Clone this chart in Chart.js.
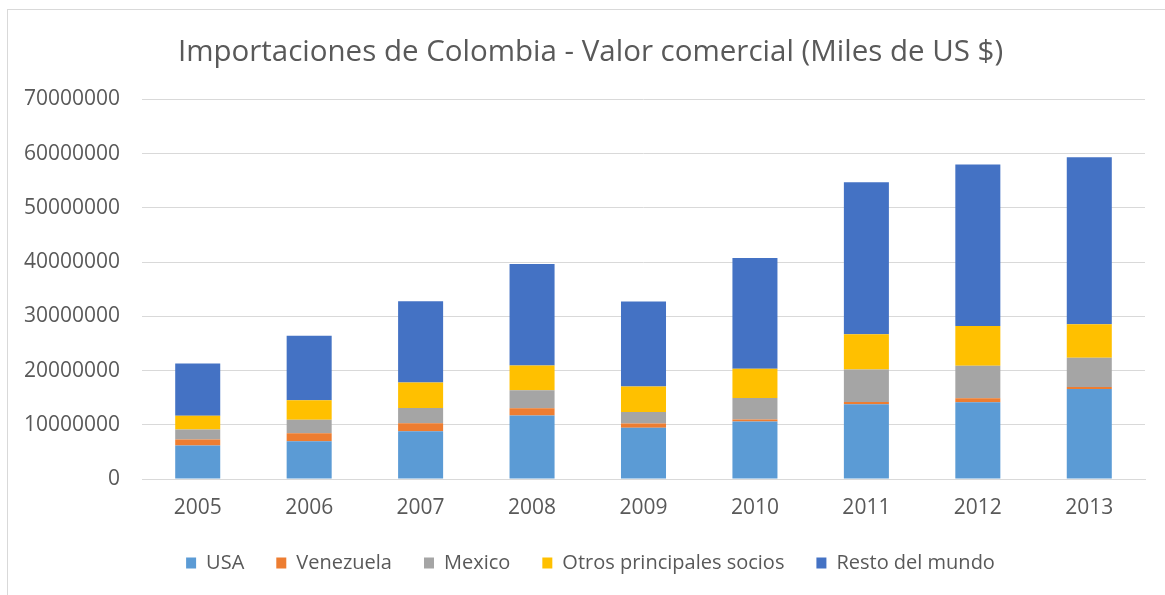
<!DOCTYPE html>
<html>
<head>
<meta charset="utf-8">
<script src="https://cdn.jsdelivr.net/npm/chart.js@4.4.0/dist/chart.umd.min.js"></script>
<style>
  html, body { margin: 0; padding: 0; background: #fff; }
  #wrap { position: relative; width: 1165px; height: 595px; overflow: hidden; }
  #frame { position: absolute; left: 7px; top: 9px; width: 1200px; height: 700px;
           border-left: 1px solid #d9d9d9; border-top: 1px solid #d9d9d9; }
  canvas { position: absolute; left: 0; top: 0; }
</style>
</head>
<body>
<div id="wrap">
  <div id="frame"></div>
  <canvas id="c" width="1165" height="595"></canvas>
</div>
<script>
const categories = ["2005","2006","2007","2008","2009","2010","2011","2012","2013"];
const usa       = [6200000, 6950000, 8800000, 11700000, 9450000, 10600000, 13800000, 14150000, 16600000];
const venezuela = [1100000, 1480000, 1500000, 1350000, 800000, 350000, 400000, 750000, 350000];
const mexico    = [1850000, 2500000, 2800000, 3300000, 2100000, 4000000, 6000000, 6000000, 5400000];
const otros     = [2500000, 3600000, 4700000, 4600000, 4700000, 5400000, 6500000, 7300000, 6200000];
const resto     = [9650000, 11900000, 15000000, 18700000, 15700000, 20400000, 28000000, 29800000, 30800000];
const yTicks    = [0, 10000000, 20000000, 30000000, 40000000, 50000000, 60000000, 70000000];

const FONT = "'Open Sans', sans-serif";
const TXT = "#595959";

const mk = (label, data, color) => ({ label, data, backgroundColor: color, borderWidth: 0,
  barPercentage: 0.404, categoryPercentage: 1.0 });

// centre title and legend over the region right of x=36 (as in the reference)
const shiftBoxes = {
  id: 'shiftBoxes',
  beforeDraw(chart) {
    if (chart.titleBlock) chart.titleBlock.left = 36;
    if (chart.legend) chart.legend.left = 36;
  }
};

new Chart(document.getElementById('c'), {
  type: 'bar',
  data: {
    labels: categories,
    datasets: [
      mk('USA', usa, '#5B9BD5'),
      mk('Venezuela', venezuela, '#ED7D31'),
      mk('Mexico', mexico, '#A5A5A5'),
      mk('Otros principales socios', otros, '#FFC000'),
      mk('Resto del mundo', resto, '#4472C4')
    ]
  },
  plugins: [shiftBoxes],
  options: {
    responsive: false,
    animation: false,
    devicePixelRatio: 1,
    layout: { padding: { left: 0, right: 20, top: 0, bottom: 12 } },
    plugins: {
      tooltip: { enabled: false },
      title: {
        display: true,
        text: 'Importaciones de Colombia - Valor comercial (Miles de US $)',
        color: TXT,
        font: { family: FONT, size: 29.5, weight: 'normal' },
        padding: { top: 35, bottom: 29 }
      },
      legend: {
        position: 'bottom',
        labels: {
          color: TXT,
          font: { family: FONT, size: 20 },
          boxWidth: 10, boxHeight: 11,
          padding: 32
        }
      }
    },
    scales: {
      x: {
        stacked: true,
        grid: { display: false, drawTicks: false },
        border: { display: true, color: '#d9d9d9' },
        ticks: { color: TXT, font: { family: FONT, size: 21 }, padding: 16 },
        afterFit: (s) => { s.height = 42; }
      },
      y: {
        stacked: true,
        min: 0, max: 70000000,
        afterBuildTicks: (s) => { s.ticks = yTicks.map(v => ({ value: v })); },
        afterFit: (s) => { s.width = 142; },
        grid: { color: '#d9d9d9', lineWidth: 1, drawTicks: false },
        border: { display: false },
        ticks: { color: TXT, font: { family: FONT, size: 21 }, padding: 22,
                 callback: (v) => String(v) }
      }
    }
  }
});
</script>
</body>
</html>
